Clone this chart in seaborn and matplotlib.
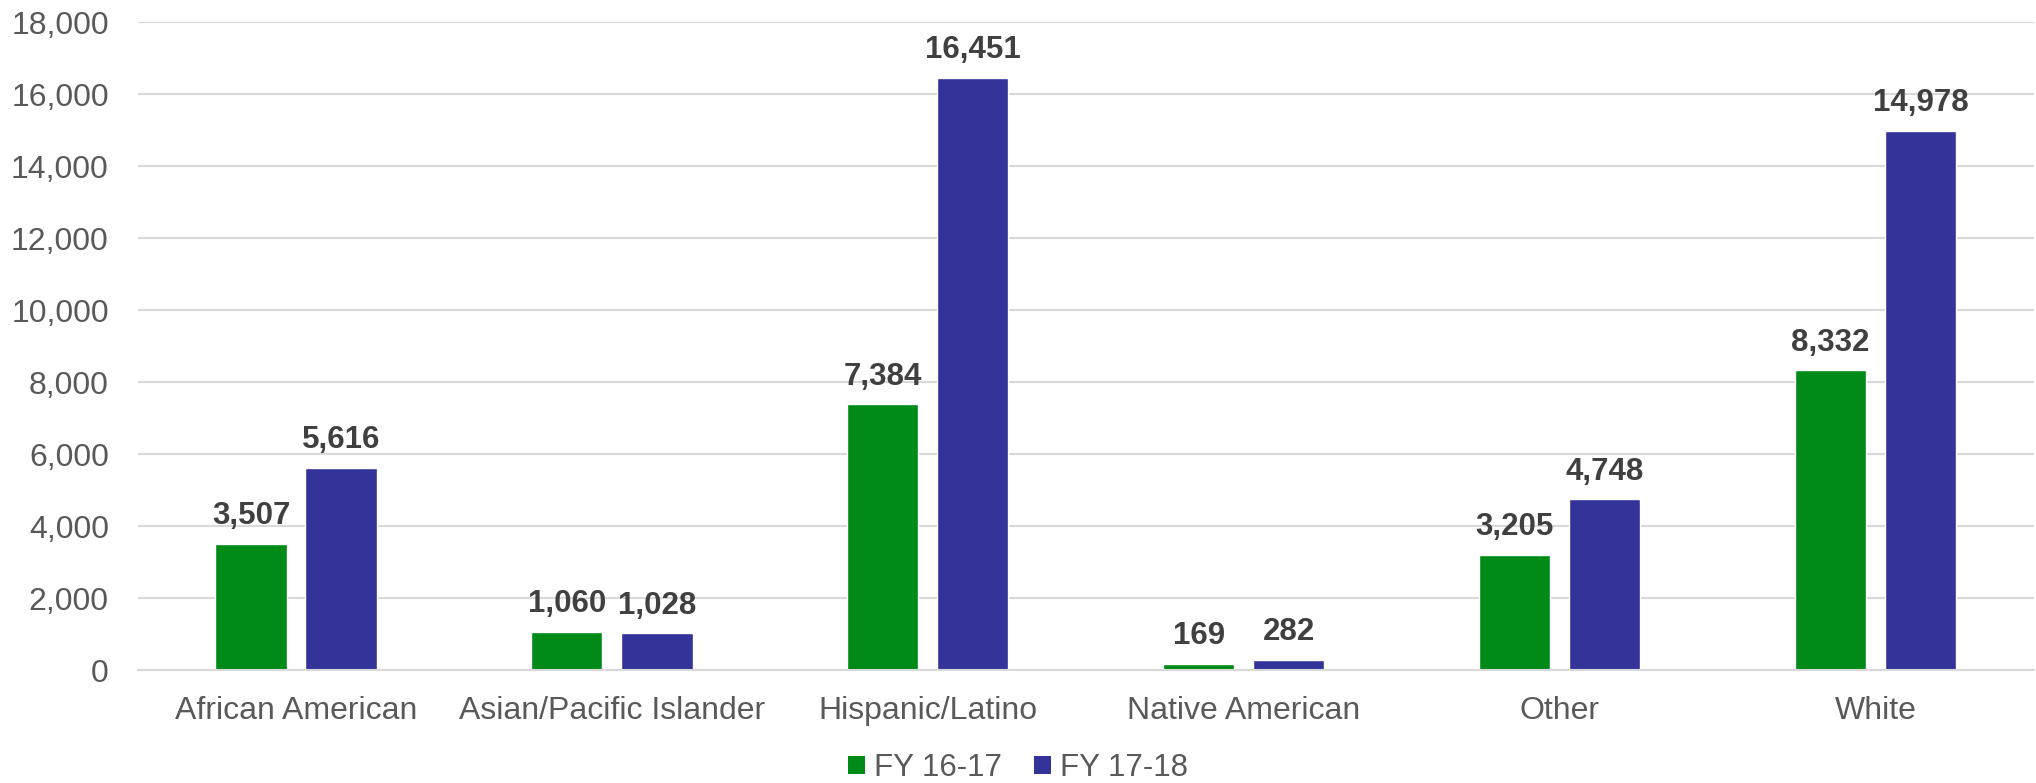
import matplotlib
matplotlib.use("Agg")
import matplotlib.pyplot as plt
import seaborn as sns
import pandas as pd
from matplotlib.patches import Patch
from matplotlib.ticker import FuncFormatter

categories = ["African American", "Asian/Pacific Islander", "Hispanic/Latino",
              "Native American", "Other", "White"]
fy_16_17 = [3507, 1060, 7384, 169, 3205, 8332]
fy_17_18 = [5616, 1028, 16451, 282, 4748, 14978]
series_names = ["FY 16-17", "FY 17-18"]
colors = ["#008A17", "#333399"]

df = pd.DataFrame({
    "group": categories * 2,
    "year": [series_names[0]] * len(categories) + [series_names[1]] * len(categories),
    "count": fy_16_17 + fy_17_18,
})

sns.set_theme(style="white")
plt.rcParams["font.family"] = ["Liberation Sans", "DejaVu Sans"]

fig = plt.figure(figsize=(20.36, 7.83), dpi=100)
ax = fig.add_axes([0.0678, 0.1443, 0.931, 0.8276])

sns.barplot(data=df, x="group", y="count", hue="year", order=categories,
            hue_order=series_names, palette=colors, width=0.57, gap=0.21,
            saturation=1, errorbar=None, legend=False, ax=ax)

for cont in ax.containers:
    ax.bar_label(cont, labels=[f"{int(v.get_height()):,}" for v in cont],
                 padding=9, fontsize=22.5, fontweight="bold", color="#404040")

ax.set_ylim(0, 18000)
ax.set_yticks(range(0, 18001, 2000))
ax.yaxis.set_major_formatter(FuncFormatter(lambda v, p: f"{int(v):,}"))
ax.set_xlim(-0.5, len(categories) - 0.5)
ax.grid(axis="y", color="#d9d9d9", linewidth=1.5)
ax.set_axisbelow(True)
for side in ["left", "right", "top"]:
    ax.spines[side].set_visible(False)
ax.spines["bottom"].set_color("#d9d9d9")
ax.spines["bottom"].set_linewidth(1.5)
ax.tick_params(axis="both", length=0, labelsize=23, labelcolor="#595959")
ax.tick_params(axis="y", pad=21)
ax.tick_params(axis="x", pad=19)
ax.set_xlabel("")
ax.set_ylabel("")

handles = [Patch(facecolor=c, edgecolor="none", label=n) for c, n in zip(colors, series_names)]
fig.legend(handles=handles, loc="center", bbox_to_anchor=(0.5, 1 - 768 / 783),
           ncol=2, frameon=False, fontsize=22.5, labelcolor="#595959",
           handlelength=0.55, handleheight=0.55, handletextpad=0.3,
           columnspacing=1.0, borderpad=0)

fig.savefig("out.png", dpi=100)
